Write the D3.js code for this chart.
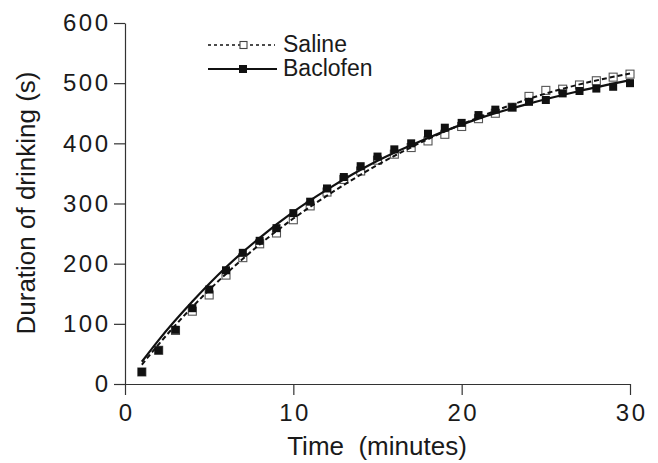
<!DOCTYPE html>
<html>
<head>
<meta charset="utf-8">
<script src="https://cdn.jsdelivr.net/npm/d3@7"></script>
<style>
  body { margin: 0; background: #fff; }
  svg { display: block; font-family: "Liberation Sans", Arial, sans-serif; }
</style>
</head>
<body>
<div id="chart"></div>
<script>
'use strict';

// minutes 1..30
var minutes = [1, 2, 3, 4, 5, 6, 7, 8, 9, 10, 11, 12, 13, 14, 15,
               16, 17, 18, 19, 20, 21, 22, 23, 24, 25, 26, 27, 28, 29, 30];

// cumulative drinking duration (s)
var saline = [20, 56, 89, 121, 148, 181, 210, 233, 251, 273, 296, 319, 340, 354, 372,
              382, 393, 404, 415, 428, 441, 450, 460, 478, 488, 490, 497, 504, 510, 515];
var baclofen = [20, 56, 90, 126, 157, 189, 218, 238, 259, 284, 303, 325, 344, 362, 378,
                390, 400, 416, 426, 434, 447, 456, 460, 469, 472, 483, 487, 491, 494, 500];

// fitted curves
var fitMinutes = [1, 2, 4, 6, 8, 10, 12, 15, 18, 21, 24, 27, 30];
var salineFit = [32, 66, 128, 183, 232, 275, 313, 364, 407, 443, 474, 498, 516];
var baclofenFit = [37, 73, 137, 194, 243, 286, 323, 371, 409, 441, 466, 487, 505];

var xTicks = [0, 10, 20, 30];
var yTicks = [0, 100, 200, 300, 400, 500, 600];

var width = 658, height = 463;
var ink = '#111';

var svg = d3.select('#chart').append('svg')
  .attr('width', width)
  .attr('height', height);

var x = d3.scaleLinear().domain([0, 30]).range([125, 630]);
var y = d3.scaleLinear().domain([0, 600]).range([384, 23]);

// axes
var xAxis = svg.append('g')
  .attr('transform', 'translate(0,' + y(0) + ')')
  .call(d3.axisBottom(x).tickValues(xTicks).tickSize(11).tickSizeOuter(0).tickPadding(9));

var yAxis = svg.append('g')
  .attr('transform', 'translate(' + x(0) + ',0)')
  .call(d3.axisLeft(y).tickValues(yTicks).tickSize(11).tickSizeOuter(0).tickPadding(3.5));

[xAxis, yAxis].forEach(function(g) {
  g.select('.domain').attr('stroke', '#333').attr('stroke-width', 1.2);
  g.selectAll('.tick line').attr('stroke', '#333').attr('stroke-width', 1.2);
  g.selectAll('.tick text')
    .attr('fill', '#1a1a1a')
    .style('font-size', '24px')
    .style('letter-spacing', '2.5px')
    .style('font-family', '"Liberation Sans", Arial, sans-serif');
});
xAxis.selectAll('.tick text').attr('dx', '1.2px');

// axis titles
svg.append('text')
  .attr('x', 377)
  .attr('y', 455)
  .attr('text-anchor', 'middle')
  .style('font-size', '26px')
  .style('white-space', 'pre')
  .attr('fill', '#1a1a1a')
  .text('Time  (minutes)');

svg.append('text')
  .attr('transform', 'translate(35,203) rotate(-90)')
  .attr('text-anchor', 'middle')
  .style('font-size', '26px')
  .attr('fill', '#1a1a1a')
  .text('Duration of drinking (s)');

// markers
var sq = 8;

svg.append('g').selectAll('rect')
  .data(minutes)
  .enter().append('rect')
  .attr('x', function(d) { return x(d) - sq / 2; })
  .attr('y', function(d, i) { return y(saline[i]) - sq / 2; })
  .attr('width', sq)
  .attr('height', sq)
  .attr('fill', '#fff')
  .attr('stroke', '#555')
  .attr('stroke-width', 1.1);

svg.append('g').selectAll('rect')
  .data(minutes)
  .enter().append('rect')
  .attr('x', function(d) { return x(d) - sq / 2; })
  .attr('y', function(d, i) { return y(baclofen[i]) - sq / 2; })
  .attr('width', sq)
  .attr('height', sq)
  .attr('fill', ink);

// fitted lines
var line = d3.line()
  .x(function(d) { return x(d[0]); })
  .y(function(d) { return y(d[1]); })
  .curve(d3.curveMonotoneX);

svg.append('path')
  .datum(d3.zip(fitMinutes, salineFit))
  .attr('d', line)
  .attr('fill', 'none')
  .attr('stroke', ink)
  .attr('stroke-width', 2)
  .attr('stroke-dasharray', '5,3');

svg.append('path')
  .datum(d3.zip(fitMinutes, baclofenFit))
  .attr('d', line)
  .attr('fill', 'none')
  .attr('stroke', ink)
  .attr('stroke-width', 2.2);

// legend
var legend = svg.append('g');

legend.append('line')
  .attr('x1', 208).attr('x2', 275).attr('y1', 45).attr('y2', 45)
  .attr('stroke', ink).attr('stroke-width', 1.6).attr('stroke-dasharray', '3,3');
legend.append('rect')
  .attr('x', 240).attr('y', 41.5).attr('width', 7).attr('height', 7)
  .attr('fill', '#fff').attr('stroke', '#444').attr('stroke-width', 1.1);
legend.append('text')
  .attr('x', 283).attr('y', 52)
  .style('font-size', '23px').attr('fill', '#1a1a1a')
  .text('Saline');

legend.append('line')
  .attr('x1', 208).attr('x2', 277).attr('y1', 69).attr('y2', 69)
  .attr('stroke', ink).attr('stroke-width', 1.8);
legend.append('rect')
  .attr('x', 239).attr('y', 65).attr('width', 8).attr('height', 8)
  .attr('fill', ink);
legend.append('text')
  .attr('x', 283).attr('y', 76)
  .style('font-size', '23px').attr('fill', '#1a1a1a')
  .text('Baclofen');
</script>
</body>
</html>
